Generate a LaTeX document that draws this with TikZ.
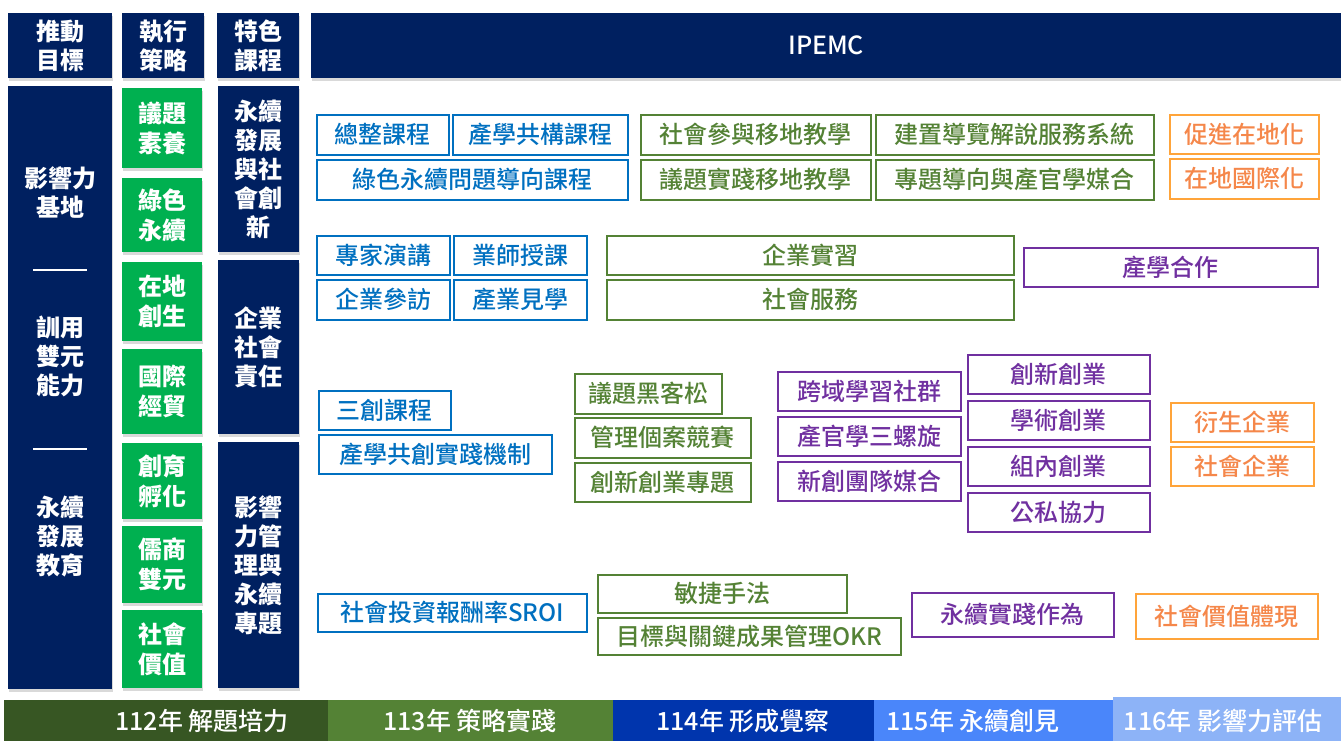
\documentclass[tikz,border=0pt]{standalone}
\usepackage{fontspec}
\setmainfont{Noto Sans CJK TC}
\newfontfamily\midfont{Noto Sans CJK TC Medium}
\usetikzlibrary{positioning,shadows}
\definecolor{navy}{HTML}{002060}
\definecolor{leaf}{HTML}{00B050}
\definecolor{itemblue}{HTML}{0070C0}
\definecolor{itemgreen}{HTML}{548235}
\definecolor{itemorange}{HTML}{FFA43A}
\definecolor{textorange}{HTML}{F5874A}
\definecolor{itempurple}{HTML}{7030A0}
\definecolor{yearA}{HTML}{375623}
\definecolor{yearB}{HTML}{548235}
\definecolor{yearC}{HTML}{0035AD}
\definecolor{yearD}{HTML}{4A86FA}
\definecolor{yearE}{HTML}{8DB3F7}
\tikzset{
    box font/.style = {
        font = \fontsize{24}{29}\selectfont\bfseries,
        },
    dark box/.style = {
        box font,
        anchor = north west,
        inner sep = 0pt,
        align = center,
        fill = navy,
        text = white,
        drop shadow = {shadow xshift=1pt, shadow yshift=-3pt, opacity=0.3},
        },
    leaf box/.style = {
        dark box,
        fill = leaf,
        font = \fontsize{24}{30}\selectfont\bfseries,
        },
    item/.style = {
        font = \fontsize{24}{29}\midfont,
        anchor = north west,
        inner sep = 0pt,
        line width = 1.5pt,
        fill = white,
        },
    blue item/.style = {
        item,
        draw = itemblue,
        text = itemblue,
        },
    green item/.style = {
        item,
        draw = itemgreen,
        text = itemgreen,
        },
    orange item/.style = {
        item,
        draw = itemorange,
        text = textorange,
        },
    purple item/.style = {
        item,
        draw = itempurple,
        text = itempurple,
        },
    year bar/.style = {
        anchor = north west,
        inner sep = 0pt,
        minimum height = 43pt,
        },
    year text/.style = {
        font = \fontsize{25}{29}\midfont,
        text = white,
        },
    rule line/.style = {
        draw = white,
        line width = 2pt,
        },
}

\begin{document}
\begin{tikzpicture}[x=1pt, y=-1pt]
    \useasboundingbox (0,0) rectangle (1341,740);

    % header row
    \node[dark box, minimum width=104pt, minimum height=65pt] (goal head) at (8,13) {推動\\目標};
    \node[dark box, minimum width=82pt, minimum height=65pt] (plan head) at (122,13) {執行\\策略};
    \node[dark box, minimum width=82pt, minimum height=65pt] (course head) at (217,13) {特色\\課程};
    \node[dark box, minimum width=1030pt, minimum height=65pt, font=\fontsize{25}{29}\midfont] (ipemc) at (311,13) {IPEMC};

    % goals
    \node[dark box, minimum width=104pt, minimum height=603pt] (goal) at (8,86) {};
    \node[box font, text=white, align=center] (goal 1) at (60,193) {影響力\\基地};
    \node[box font, text=white, align=center] (goal 2) at (60,356) {訓用\\雙元\\能力};
    \node[box font, text=white, align=center] (goal 3) at (60,537) {永續\\發展\\教育};
    \coordinate (rule 1a) at (33,270);
    \coordinate (rule 1b) at (87,270);
    \coordinate (rule 2a) at (33,449);
    \coordinate (rule 2b) at (87,449);
    \draw[rule line] (rule 1a) -- (rule 1b);
    \draw[rule line] (rule 2a) -- (rule 2b);

    % strategies
    \node[leaf box, minimum width=80pt, minimum height=80pt] (s1) at (122,88) {議題\\素養};
    \node[leaf box, minimum width=80pt, minimum height=74pt] (s2) at (122,178) {綠色\\永續};
    \node[leaf box, minimum width=80pt, minimum height=79pt] (s3) at (122,262) {在地\\創生};
    \node[leaf box, minimum width=80pt, minimum height=85pt] (s4) at (122,349) {國際\\經貿};
    \node[leaf box, minimum width=80pt, minimum height=76pt] (s5) at (122,443) {創育\\孵化};
    \node[leaf box, minimum width=80pt, minimum height=77pt] (s6) at (122,526) {儒商\\雙元};
    \node[leaf box, minimum width=80pt, minimum height=78pt] (s7) at (122,610) {社會\\價值};

    % courses
    \node[dark box, minimum width=81pt, minimum height=166pt] (c1) at (218,86) {永續\\發展\\與社\\會創\\新};
    \node[dark box, minimum width=81pt, minimum height=174pt] (c2) at (218,260) {企業\\社會\\責任};
    \node[dark box, minimum width=81pt, minimum height=246pt] (c3) at (218,442) {影響\\力管\\理與\\永續\\專題};

    % first block
    \node[blue item, minimum width=132pt, minimum height=40pt] (b1) at (316,114) {總整課程};
    \node[blue item, minimum width=175pt, minimum height=40pt] (b2) at (452,114) {產學共構課程};
    \node[blue item, minimum width=311pt, minimum height=40pt] (b3) at (316,159) {綠色永續問題導向課程};
    \node[green item, minimum width=230pt, minimum height=40pt] (g1) at (640,114) {社會參與移地教學};
    \node[green item, minimum width=278pt, minimum height=40pt] (g2) at (875,114) {建置導覽解說服務系統};
    \node[green item, minimum width=230pt, minimum height=40pt] (g3) at (640,159) {議題實踐移地教學};
    \node[green item, minimum width=278pt, minimum height=40pt] (g4) at (875,159) {專題導向與產官學媒合};
    \node[orange item, minimum width=149pt, minimum height=39pt] (o1) at (1169,114) {促進在地化};
    \node[orange item, minimum width=149pt, minimum height=40pt] (o2) at (1169,158) {在地國際化};

    % second block
    \node[blue item, minimum width=133pt, minimum height=39pt] (b4) at (316,235) {專家演講};
    \node[blue item, minimum width=133pt, minimum height=39pt] (b5) at (453,235) {業師授課};
    \node[blue item, minimum width=133pt, minimum height=40pt] (b6) at (316,279) {企業參訪};
    \node[blue item, minimum width=133pt, minimum height=40pt] (b7) at (453,279) {產業見學};
    \node[green item, minimum width=407pt, minimum height=39pt] (g5) at (606,235) {企業實習};
    \node[green item, minimum width=407pt, minimum height=40pt] (g6) at (606,279) {社會服務};
    \node[purple item, minimum width=294pt, minimum height=39pt] (p1) at (1023,247) {產學合作};

    % third block
    \node[blue item, minimum width=132pt, minimum height=39pt] (b8) at (318,390) {三創課程};
    \node[blue item, minimum width=233pt, minimum height=39pt] (b9) at (318,434) {產學共創實踐機制};
    \node[green item, minimum width=147pt, minimum height=40pt] (g7) at (574,373) {議題黑客松};
    \node[green item, minimum width=176pt, minimum height=40pt] (g8) at (574,417) {管理個案競賽};
    \node[green item, minimum width=176pt, minimum height=39pt] (g9) at (574,462) {創新創業專題};
    \node[purple item, minimum width=183pt, minimum height=39pt] (p2) at (777,371) {跨域學習社群};
    \node[purple item, minimum width=183pt, minimum height=39pt] (p3) at (777,416) {產官學三螺旋};
    \node[purple item, minimum width=183pt, minimum height=39pt] (p4) at (777,461) {新創團隊媒合};
    \node[purple item, minimum width=182pt, minimum height=39pt] (p5) at (967,354) {創新創業};
    \node[purple item, minimum width=182pt, minimum height=39pt] (p6) at (967,400) {學術創業};
    \node[purple item, minimum width=182pt, minimum height=39pt] (p7) at (967,446) {組內創業};
    \node[purple item, minimum width=182pt, minimum height=39pt] (p8) at (967,492) {公私協力};
    \node[orange item, minimum width=143pt, minimum height=39pt] (o3) at (1170,402) {衍生企業};
    \node[orange item, minimum width=143pt, minimum height=39pt] (o4) at (1170,446) {社會企業};

    % fourth block
    \node[blue item, minimum width=269pt, minimum height=38pt] (b10) at (317,593) {社會投資報酬率SROI};
    \node[green item, minimum width=249pt, minimum height=38pt] (g10) at (597,574) {敏捷手法};
    \node[green item, minimum width=303pt, minimum height=37pt] (g11) at (597,617) {目標與關鍵成果管理OKR};
    \node[purple item, minimum width=202pt, minimum height=44pt] (p9) at (911,592) {永續實踐作為};
    \node[orange item, minimum width=182pt, minimum height=45pt] (o5) at (1135,593) {社會價值體現};

    % years
    \node[year bar, fill=yearA, minimum width=324pt] (y112) at (4,700) {};
    \node[year bar, fill=yearB, minimum width=285pt] (y113) at (328,700) {};
    \node[year bar, fill=yearC, minimum width=261pt] (y114) at (613,700) {};
    \node[year bar, fill=yearD, minimum width=239pt] (y115) at (874,700) {};
    \node[year bar, fill=yearE, minimum width=228pt, minimum height=46pt] (y116) at (1113,697) {};
    \node[year text] (t112) at (202,721) {112年 解題培力};
    \node[year text] (t113) at (470,721) {113年 策略實踐};
    \node[year text] (t114) at (743,721) {114年 形成覺察};
    \node[year text] (t115) at (973,721) {115年 永續創見};
    \node[year text] (t116) at (1223,721) {116年 影響力評估};
\end{tikzpicture}
\end{document}
